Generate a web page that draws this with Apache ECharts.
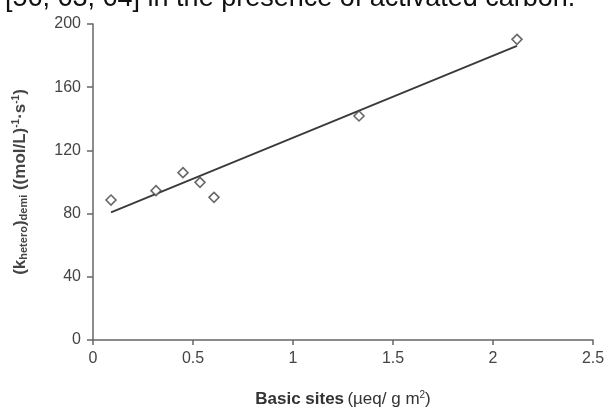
<!DOCTYPE html>
<html>
<head>
<meta charset="utf-8">
<script src="https://cdn.jsdelivr.net/npm/echarts@6/dist/echarts.min.js"></script>
<style>html,body{margin:0;padding:0;background:#fff}#c{width:610px;height:410px}</style>
</head>
<body>
<div id="c"></div>
<script>
// Data
const basicSites = [0.09, 0.315, 0.45, 0.535, 0.605, 1.33, 2.12];
const kHetero = [88.6, 94.5, 105.9, 99.8, 90.3, 141.8, 190.3];
const fitX = [0.09, 2.12];
const fitY = [80.8, 186.2];
const xTicks = [0, 0.5, 1, 1.5, 2, 2.5];
const yTicks = [0, 40, 80, 120, 160, 200];

const points = basicSites.map((x, i) => [x, kHetero[i]]);
const fitLine = fitX.map((x, i) => [x, fitY[i]]);

const chart = echarts.init(document.getElementById('c'));
chart.setOption({
  animation: false,
  backgroundColor: '#fff',
  title: {
    text: '[56, 63, 64] in the presence of activated carbon.',
    left: 0, top: -20,
    textStyle: { fontFamily: 'Liberation Sans', fontSize: 27, fontWeight: 'normal', color: '#111' }
  },
  grid: { left: 93, right: 17, top: 24, bottom: 70, containLabel: false, outerBoundsMode: 'none' },
  xAxis: {
    type: 'value', min: xTicks[0], max: xTicks[xTicks.length - 1], interval: 0.5,
    name: '{b|Basic sites} {n|(µeq/ g m}{s|2}{n|)}',
    nameLocation: 'middle', nameGap: 50,
    nameTextStyle: {
      rich: {
        b: { fontFamily: 'Liberation Sans', fontSize: 17, fontWeight: 'bold', color: '#333' },
        n: { fontFamily: 'Liberation Sans', fontSize: 17, color: '#333' },
        s: { fontFamily: 'Liberation Sans', fontSize: 10, color: '#333', padding: [0,0,8,0] }
      }
    },
    axisLine: { lineStyle: { color: '#666', width: 1.5 } },
    axisTick: { show: true, length: 5, lineStyle: { color: '#666', width: 1.5 } },
    axisLabel: { fontFamily: 'Liberation Sans', fontSize: 16, color: '#444', margin: 11,
      formatter: v => String(v) },
    splitLine: { show: false }
  },
  yAxis: {
    type: 'value', min: yTicks[0], max: yTicks[yTicks.length - 1], interval: 40,
    name: '{n|(k}{sb|hetero}{n|)}{sb|demi}{n| ((mol/L)}{sp|-1}{n|·s}{sp|-1}{n|)}',
    nameLocation: 'middle', nameGap: 64, nameRotate: 90,
    nameTextStyle: {
      rich: {
        n: { fontFamily: 'Liberation Sans', fontSize: 17, fontWeight: 'bold', color: '#444' },
        sb: { fontFamily: 'Liberation Sans', fontSize: 11, fontWeight: 'bold', color: '#444', padding: [7,0,0,0] },
        sp: { fontFamily: 'Liberation Sans', fontSize: 10, fontWeight: 'bold', color: '#444', padding: [0,0,8,0] }
      }
    },
    axisLine: { show: true, lineStyle: { color: '#666', width: 1.5 } },
    axisTick: { show: true, length: 6, lineStyle: { color: '#666', width: 1.5 } },
    axisLabel: { fontFamily: 'Liberation Sans', fontSize: 16, color: '#444', margin: 12 },
    splitLine: { show: false }
  },
  series: [
    {
      type: 'line', data: fitLine, symbol: 'none',
      lineStyle: { color: '#3a3a3a', width: 1.8 }, z: 2
    },
    {
      type: 'scatter', data: points, symbol: 'diamond', symbolSize: 10,
      itemStyle: { color: '#fff', borderColor: '#444', borderWidth: 1.6 }, z: 3
    }
  ]
});
</script>
</body>
</html>
